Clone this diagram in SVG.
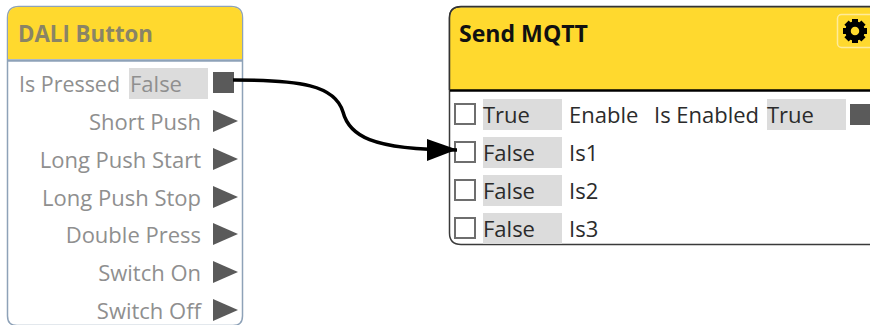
<svg xmlns="http://www.w3.org/2000/svg" width="870" height="325" viewBox="0 0 870 325">
<style>
text{font-family:"Open Sans","Noto Sans","Liberation Sans",sans-serif;font-size:22px}
.t{font-weight:700;font-size:22.500px}
.g text{fill:#8f8f8f}
.d text{fill:#2b2b2b}
.val{fill:#dcdcdc}
.port{fill:#5a5a5a}
.cb{fill:#fff;stroke:#6e6e6e;stroke-width:2}
.r{text-anchor:end}
</style>
<defs>
<marker id="ah" markerUnits="userSpaceOnUse" markerWidth="32" markerHeight="24" refX="30" refY="12" orient="auto"><path d="M0 1L30 11.500L0 23z" fill="#000"/></marker>
<path id="tri" class="port" d="M0 0L25 11L0 22z"/>
</defs>
<rect width="870" height="325" fill="#fff"/>
<g id="dali-button" class="g">
<path d="M7.500 18Q7.500 6.500 19 6.500H231Q242.500 6.500 242.500 18V316Q242.500 325.500 233 325.500H17Q7.500 325.500 7.500 316z" fill="#fff" stroke="#8ea2b8" stroke-width="1.500"/>
<path d="M8 59V18Q8 7 19 7H231Q242 7 242 18V59z" fill="#ffd92e"/>
<path d="M8 60.500H242" stroke="#8ea2b8" stroke-width="2.500"/>
<text class="t" x="18" y="41.500" textLength="135" lengthAdjust="spacingAndGlyphs" style="fill:#8a8466">DALI Button</text>
<text x="19" y="92" textLength="101" lengthAdjust="spacingAndGlyphs">Is Pressed</text>
<rect class="val" x="129" y="68" width="79" height="31"/>
<text x="130" y="92">False</text>
<rect class="port" x="213" y="72" width="21" height="21"/>
<text class="r" x="201" y="130">Short Push</text><use href="#tri" x="213" y="110"/>
<text class="r" x="201" y="168">Long Push Start</text><use href="#tri" x="213" y="148"/>
<text class="r" x="201" y="206">Long Push Stop</text><use href="#tri" x="213" y="186"/>
<text class="r" x="201" y="243">Double Press</text><use href="#tri" x="213" y="223"/>
<text class="r" x="201" y="281">Switch On</text><use href="#tri" x="213" y="261"/>
<text class="r" x="201" y="319">Switch Off</text><use href="#tri" x="213" y="299"/>
</g>
<g id="send-mqtt" class="d">
<path d="M870 7H461Q449.500 7 449.500 18V233Q449.500 244.500 461 244.500H870" fill="#fff" stroke="#3a3a3a" stroke-width="1.500"/>
<path d="M870 7.500H461Q450 7.500 450 18V90H870z" fill="#ffd92e"/>
<path d="M450 90.500H870" stroke="#000" stroke-width="2.500"/>
<path d="M870 6.500H461Q449.500 6.500 449.500 18V90" fill="none" stroke="#333" stroke-width="1.500"/>
<text class="t" x="459" y="41.500" textLength="129" lengthAdjust="spacingAndGlyphs" style="fill:#111">Send MQTT</text>
<rect x="837.500" y="14.500" width="40" height="33" rx="4" fill="#ffd92e" stroke="#ffeb9a" stroke-width="1.500"/>
<g transform="translate(855 31)">
<circle r="7" fill="none" stroke="#000" stroke-width="5.500"/>
<path d="M-3 -12H3V-8H-3zM-3 12H3V8H-3zM-12 -3V3H-8V-3zM12 -3V3H8V-3z" fill="#000"/>
<path d="M-3 -12H3V-8H-3zM-3 12H3V8H-3zM-12 -3V3H-8V-3zM12 -3V3H8V-3z" fill="#000" transform="rotate(45)"/>
</g>
<rect class="cb" x="455" y="104" width="20" height="20"/>
<rect class="val" x="483" y="99" width="79" height="31"/>
<text x="483" y="123">True</text>
<text x="569" y="123">Enable</text>
<text x="654" y="123" textLength="105" lengthAdjust="spacingAndGlyphs">Is Enabled</text>
<rect class="val" x="767" y="99" width="79" height="31"/>
<text x="767" y="123">True</text>
<rect class="port" x="850" y="104" width="20" height="21"/>
<rect class="cb" x="455" y="142" width="20" height="20"/>
<rect class="val" x="483" y="137" width="79" height="31"/>
<text x="483" y="161">False</text>
<text x="569" y="161">Is1</text>
<rect class="cb" x="455" y="180" width="20" height="20"/>
<rect class="val" x="483" y="175" width="79" height="31"/>
<text x="483" y="199">False</text>
<text x="569" y="199">Is2</text>
<rect class="cb" x="455" y="218" width="20" height="20"/>
<rect class="val" x="483" y="213" width="79" height="31"/>
<text x="483" y="237">False</text>
<text x="569" y="237">Is3</text>
</g>
<g id="connectors">
<path d="M233 80C300 80 335 85 343 112C349 135 370 150 457 150" fill="none" stroke="#000" stroke-width="3.500" marker-end="url(#ah)"/>
</g>
</svg>
